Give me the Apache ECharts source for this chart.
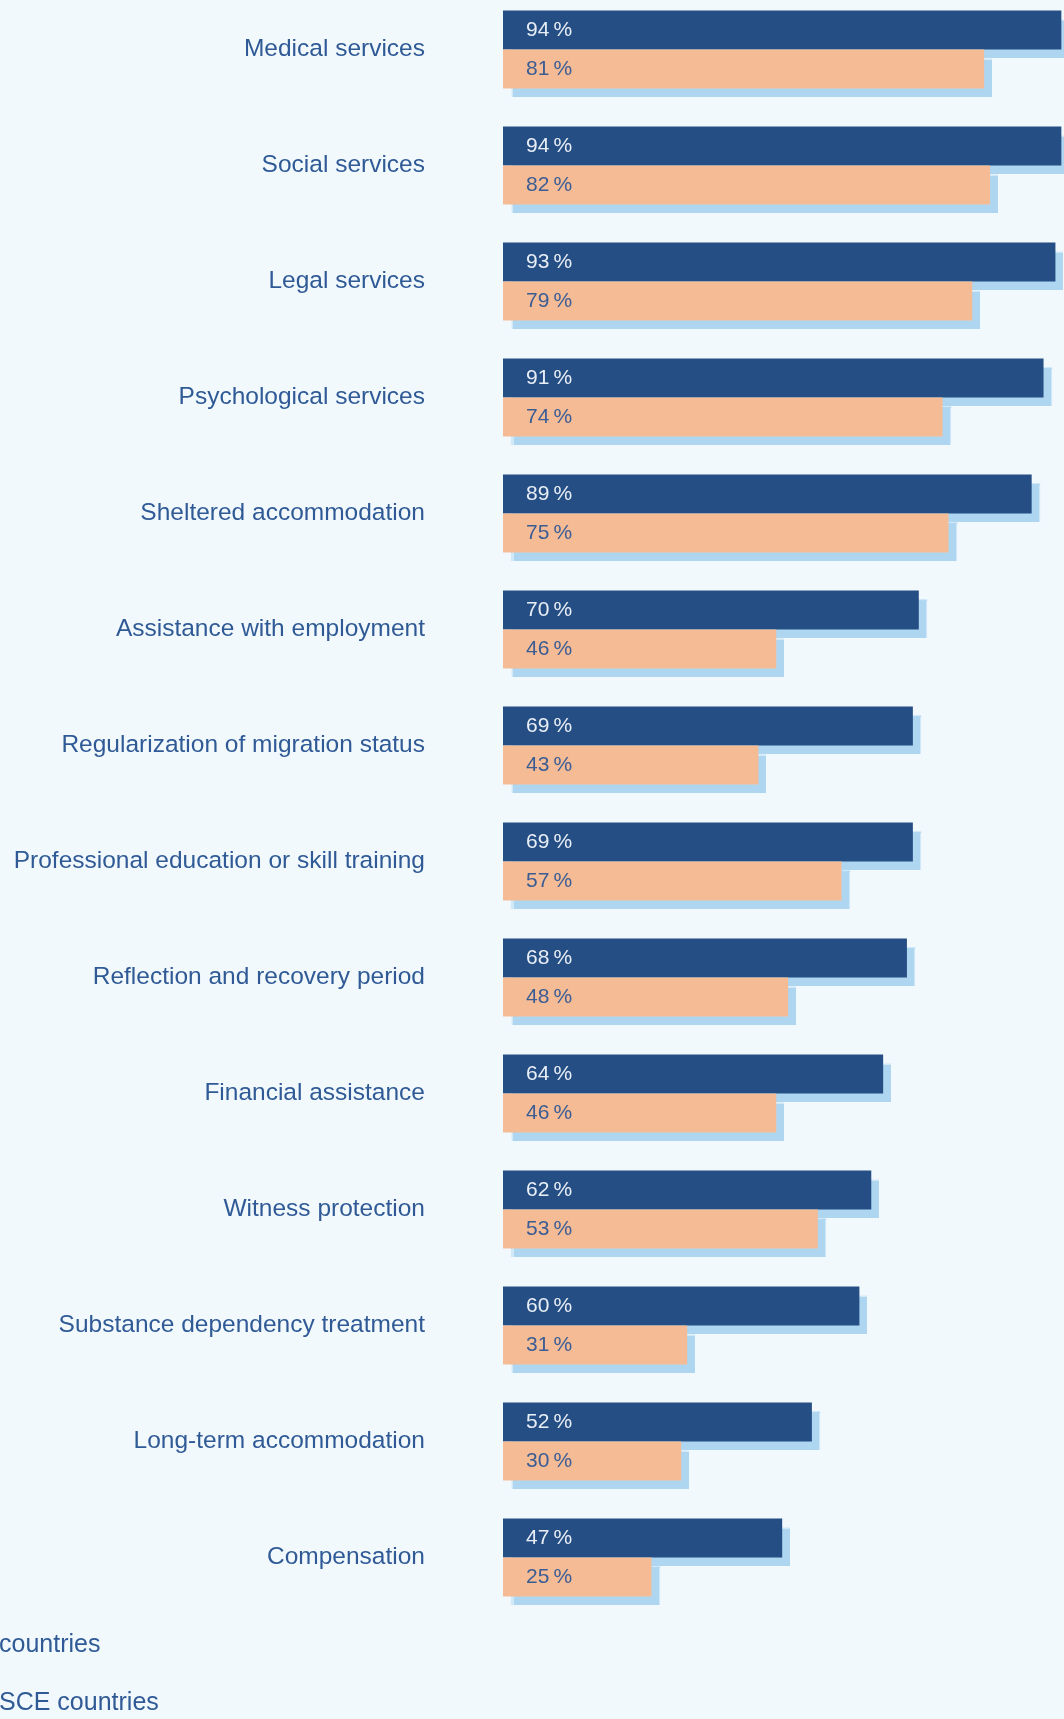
<!DOCTYPE html>
<html>
<head>
<meta charset="utf-8">
<script src="https://cdn.jsdelivr.net/npm/echarts@6/dist/echarts.min.js"></script>
<style>
    html, body {margin: 0; padding: 0; background: #f2f9fd;}
    #main {width: 1064px; height: 1719px;}
</style>
</head>
<body>
<div id="main"></div>
<script>
//分类
var categories = [
    'Medical services',
    'Social services',
    'Legal services',
    'Psychological services',
    'Sheltered accommodation',
    'Assistance with employment',
    'Regularization of migration status',
    'Professional education or skill training',
    'Reflection and recovery period',
    'Financial assistance',
    'Witness protection',
    'Substance dependency treatment',
    'Long-term accommodation',
    'Compensation'
];
var seriesNames = ['countries', 'SCE countries'];
var valuesA = [94, 94, 93, 91, 89, 70, 69, 69, 68, 64, 62, 60, 52, 47];
var valuesB = [81, 82, 79, 74, 75, 46, 43, 57, 48, 46, 53, 31, 30, 25];

var font = 'Liberation Sans, Arial, sans-serif';
var textColor = '#2f5a96';

function barSeries(name, data, color, labelColor) {
    return {
        name: name,
        type: 'bar',
        data: data,
        barWidth: 39,
        barGap: 0,
        itemStyle: {
            color: color,
            shadowColor: '#aed6f1',
            shadowBlur: 1,
            shadowOffsetX: 8,
            shadowOffsetY: 8
        },
        label: {
            show: true,
            position: 'insideLeft',
            distance: 23,
            color: labelColor,
            fontFamily: font,
            fontSize: 21,
            formatter: function (p) {
                return p.value + '\u2009%';
            }
        }
    };
}

var legendText = {color: textColor, fontFamily: font, fontSize: 25, lineHeight: 30};

var option = {
    backgroundColor: '#f2f9fd',
    animation: false,
    grid: {
        left: 503,
        top: -8.5,
        width: 594,
        height: 1624,
        outerBoundsMode: 'none',
        containLabel: false
    },
    legend: [
        {
            data: [seriesNames[0]],
            left: -36,
            top: 1625,
            itemWidth: 25,
            itemHeight: 14,
            textStyle: legendText
        },
        {
            data: [seriesNames[1]],
            left: -36,
            top: 1683,
            itemWidth: 25,
            itemHeight: 14,
            textStyle: legendText
        }
    ],
    xAxis: {
        type: 'value',
        min: 0,
        max: 100,
        show: false
    },
    yAxis: {
        type: 'category',
        data: categories,
        inverse: true,
        axisLine: {show: false},
        axisTick: {show: false},
        splitLine: {show: false},
        axisLabel: {
            margin: 78,
            color: textColor,
            fontFamily: font,
            fontSize: 24.5
        }
    },
    series: [
        barSeries(seriesNames[0], valuesA, '#254e84', '#e8eef6'),
        barSeries(seriesNames[1], valuesB, '#f4bb95', '#3b5d94')
    ]
};

var chart = echarts.init(document.getElementById('main'));
chart.setOption(option);
</script>
</body>
</html>
